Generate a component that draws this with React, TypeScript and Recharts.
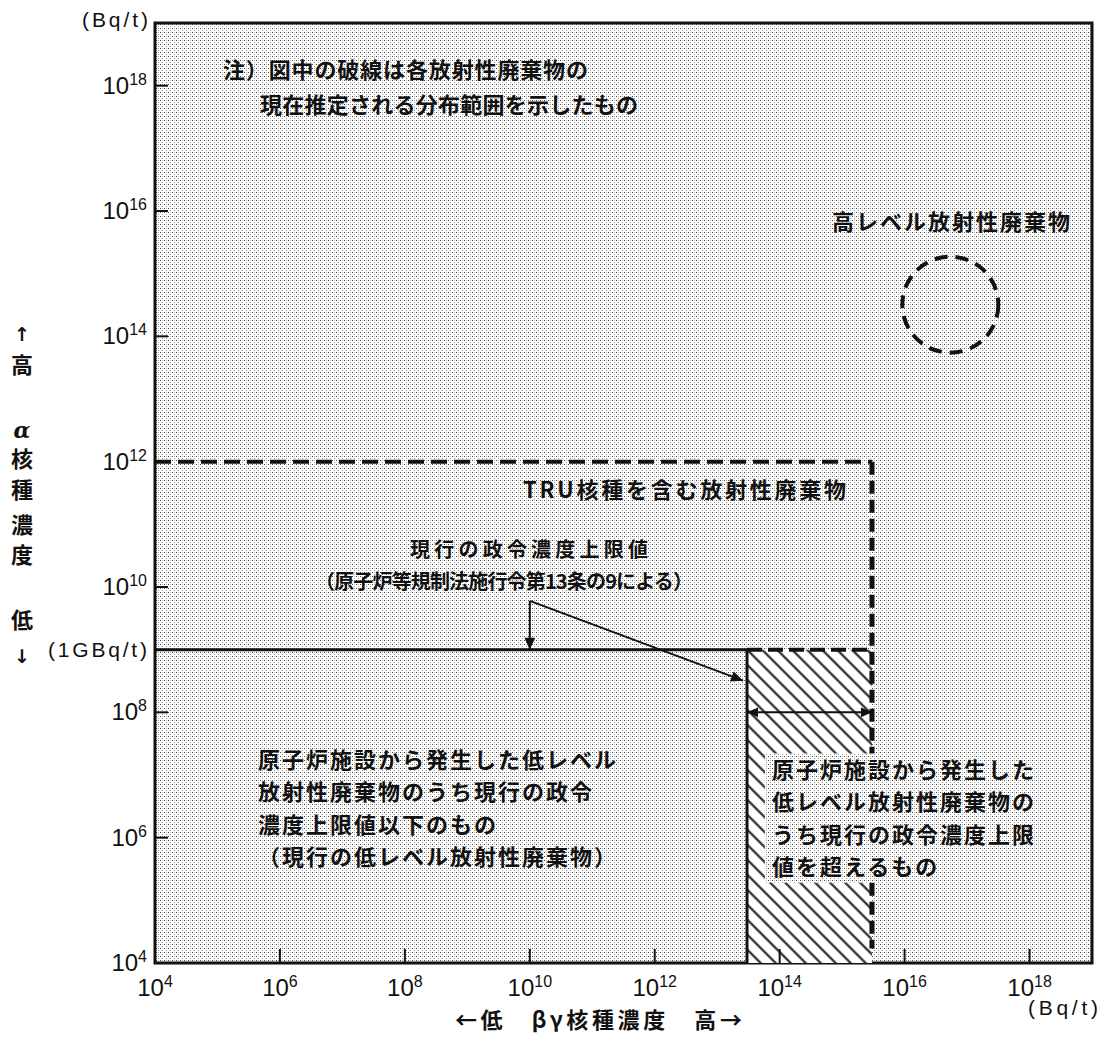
import React from "react";
import {
  ComposedChart,
  XAxis,
  YAxis,
  ReferenceArea,
  ReferenceLine,
  ReferenceDot,
} from "recharts";

// axes (Bq/t), both log scale
const AXIS_MIN = 1e4;
const AXIS_MAX = 1e19;
const xTicks = [1e4, 1e6, 1e8, 1e10, 1e12, 1e14, 1e16, 1e18];
const yTicks = [1e4, 1e6, 1e8, 1e9, 1e10, 1e12, 1e14, 1e16, 1e18];

// TRU waste: dashed boundary
const truAlphaMax = 1e12;
const truBetaMax = 3e15;
const truAlphaFloor = 1.7e4;

// current government limit (1GBq/t) and the hatched band above it
const limitAlpha = 1e9;
const limitBeta = 3e13;

// high level waste (dashed circle)
const hlwBeta = 5.4e16;
const hlwAlpha = 3.2e14;

// plain area behind the right text block
const coverBeta = [5.8e13, 2.1e18];
const coverAlpha = [1.9e5, 2.2e7];

// leader arrows from the limit label
const pointerFrom = { beta: 1e10, alpha: 6e9 };
const pointerTo = { beta: 2.6e13, alpha: 3.2e8 };
const spanAlpha = 1e8;

const W = 1100;
const H = 1030;
const INK = "#111";
const JP = "'Noto Sans CJK JP', 'Noto Sans', sans-serif";
const LAT = "'Liberation Sans', Arial, sans-serif";

const head = (x1: number, y1: number, x2: number, y2: number, s: number) => {
  const a = Math.atan2(y2 - y1, x2 - x1);
  const bx = x2 - s * Math.cos(a);
  const by = y2 - s * Math.sin(a);
  const w = s * 0.45;
  return `${x2},${y2} ${bx + w * Math.sin(a)},${by - w * Math.cos(a)} ${bx - w * Math.sin(a)},${by + w * Math.cos(a)}`;
};

const Arrow = (props: any) => {
  const { x1, y1, x2, y2 } = props;
  return (
    <g>
      <line x1={x1} y1={y1} x2={x2} y2={y2} stroke={INK} strokeWidth={2} />
      <polygon points={head(x1, y1, x2, y2, 12)} fill={INK} />
    </g>
  );
};

const DoubleArrow = (props: any) => {
  const { x1, y1, x2, y2 } = props;
  return (
    <g>
      <line x1={x1} y1={y1} x2={x2} y2={y2} stroke={INK} strokeWidth={2} />
      <polygon points={head(x1, y1, x2, y2, 11)} fill={INK} />
      <polygon points={head(x2, y2, x1, y1, 11)} fill={INK} />
    </g>
  );
};

const Power = ({ x, y, v, anchor }: any) => (
  <text x={x} y={y} textAnchor={anchor} fontFamily={LAT} fontSize={24} fill={INK}>
    10
    <tspan dy={-9} fontSize={16}>
      {Math.round(Math.log10(v))}
    </tspan>
  </text>
);

const YTick = (props: any) => {
  const { x, y, payload } = props;
  const v = payload.value;
  if (v === limitAlpha) {
    return (
      <text x={x} y={y + 7} textAnchor="end" fontFamily={LAT} fontSize={21} fill={INK} textLength={99}>
        (1GBq/t)
      </text>
    );
  }
  return (
    <g>
      {v > AXIS_MIN && <line x1={x + 8} x2={x + 21} y1={y} y2={y} stroke={INK} strokeWidth={2} />}
      <Power x={x} y={y + 8} v={v} anchor="end" />
    </g>
  );
};

const XTick = (props: any) => {
  const { x, y, payload } = props;
  const v = payload.value;
  return (
    <g>
      {v > AXIS_MIN && <line x1={x} x2={x} y1={y} y2={y - 14} stroke={INK} strokeWidth={2} />}
      <Power x={x} y={y + 33} v={v} anchor="middle" />
    </g>
  );
};

const jp = { fontFamily: JP, fontSize: 22, fontWeight: 700, fill: INK, letterSpacing: 2 } as const;

export default function App() {
  return (
    <div style={{ position: "relative", width: W, height: H }}>
      <svg width={0} height={0} style={{ position: "absolute" }}>
        <defs>
          <pattern id="stipple" patternUnits="userSpaceOnUse" width={4} height={4}>
            <rect width={4} height={4} fill="#fff" />
            <rect x={0} y={0} width={1} height={1} fill="#444" />
            <rect x={2} y={2} width={1} height={1} fill="#999" />
            <rect x={2} y={0} width={1} height={1} fill="#bbb" />
          </pattern>
          <pattern id="hatch" patternUnits="userSpaceOnUse" width={10.6} height={10.6} patternTransform="rotate(-45)">
            <rect width={10.6} height={10.6} fill="#fff" />
            <line x1={5.3} y1={0} x2={5.3} y2={10.6} stroke={INK} strokeWidth={2} />
          </pattern>
        </defs>
      </svg>

      <ComposedChart width={W} height={H} margin={{ top: 15, right: 16, left: 47, bottom: 35 }}>
        <ReferenceArea
          x1={AXIS_MIN}
          x2={AXIS_MAX}
          y1={AXIS_MIN}
          y2={AXIS_MAX}
          fill="url(#stipple)"
          fillOpacity={1}
          stroke={INK}
          strokeWidth={3}
        />
        <ReferenceArea
          x1={limitBeta}
          x2={truBetaMax}
          y1={AXIS_MIN}
          y2={limitAlpha}
          fill="url(#hatch)"
          fillOpacity={1}
          stroke="none"
        />
        <ReferenceArea
          x1={coverBeta[0]}
          x2={coverBeta[1]}
          y1={coverAlpha[0]}
          y2={coverAlpha[1]}
          fill="url(#stipple)"
          fillOpacity={1}
          stroke="none"
        />

        <XAxis
          type="number"
          dataKey="beta"
          scale="log"
          domain={[AXIS_MIN, AXIS_MAX]}
          ticks={xTicks}
          interval={0}
          allowDataOverflow
          axisLine={false}
          tickLine={false}
          tickSize={0}
          tickMargin={0}
          height={40}
          tick={<XTick />}
        />
        <YAxis
          type="number"
          dataKey="alpha"
          scale="log"
          domain={[AXIS_MIN, AXIS_MAX]}
          ticks={yTicks}
          interval={0}
          allowDataOverflow
          axisLine={false}
          tickLine={false}
          tickSize={0}
          tickMargin={8}
          width={100}
          tick={<YTick />}
        />

        {/* TRU boundary */}
        <ReferenceLine
          segment={[
            { x: AXIS_MIN, y: truAlphaMax },
            { x: truBetaMax, y: truAlphaMax },
          ]}
          stroke={INK}
          strokeWidth={4}
          strokeDasharray="16 7"
        />
        <ReferenceLine
          segment={[
            { x: truBetaMax, y: truAlphaMax },
            { x: truBetaMax, y: coverAlpha[1] },
          ]}
          stroke={INK}
          strokeWidth={5}
          strokeDasharray="13 6"
        />
        <ReferenceLine
          segment={[
            { x: truBetaMax, y: coverAlpha[0] },
            { x: truBetaMax, y: truAlphaFloor },
          ]}
          stroke={INK}
          strokeWidth={5}
          strokeDasharray="13 6"
        />

        {/* limit line and hatched band */}
        <ReferenceLine
          segment={[
            { x: AXIS_MIN, y: limitAlpha },
            { x: limitBeta, y: limitAlpha },
          ]}
          stroke={INK}
          strokeWidth={3}
        />
        <ReferenceLine
          segment={[
            { x: limitBeta, y: limitAlpha },
            { x: truBetaMax, y: limitAlpha },
          ]}
          stroke={INK}
          strokeWidth={4}
          strokeDasharray="15 6"
        />
        <ReferenceLine
          segment={[
            { x: limitBeta, y: limitAlpha },
            { x: limitBeta, y: AXIS_MIN },
          ]}
          stroke={INK}
          strokeWidth={3}
        />

        {/* leaders */}
        <ReferenceLine
          segment={[
            { x: pointerFrom.beta, y: pointerFrom.alpha },
            { x: pointerFrom.beta, y: limitAlpha },
          ]}
          shape={Arrow}
        />
        <ReferenceLine
          segment={[
            { x: pointerFrom.beta, y: pointerFrom.alpha },
            { x: pointerTo.beta, y: pointerTo.alpha },
          ]}
          shape={Arrow}
        />
        <ReferenceLine
          segment={[
            { x: limitBeta, y: spanAlpha },
            { x: truBetaMax, y: spanAlpha },
          ]}
          shape={DoubleArrow}
        />

        <ReferenceDot
          x={hlwBeta}
          y={hlwAlpha}
          r={48}
          shape={(p: any) => (
            <circle cx={p.cx} cy={p.cy} r={48} fill="none" stroke={INK} strokeWidth={4} strokeDasharray="13 8" />
          )}
        />
      </ComposedChart>

      <svg width={W} height={H} style={{ position: "absolute", left: 0, top: 0, pointerEvents: "none" }}>
        <text x={74} y={19} fontFamily={LAT} fontSize={21} fill={INK} textLength={66}>
          (Bq/t)
        </text>
        <text x={1020} y={1007} fontFamily={LAT} fontSize={21} fill={INK} textLength={70}>
          (Bq/t)
        </text>

        {/* y title, vertical */}
        <g {...jp} letterSpacing={0} textAnchor="middle">
          <text x={14} y={333} fontFamily="'DejaVu Sans', sans-serif" fontSize={19}>↑</text>
          <text x={14} y={365}>高</text>
          <text x={14} y={430} fontFamily="'DejaVu Serif', serif" fontStyle="italic">α</text>
          <text x={14} y={459}>核</text>
          <text x={14} y={490}>種</text>
          <text x={14} y={525}>濃</text>
          <text x={14} y={555}>度</text>
          <text x={14} y={620}>低</text>
          <text x={14} y={655} fontFamily="'DejaVu Sans', sans-serif" fontSize={19}>↓</text>
        </g>

        {/* x title */}
        <text x={447} y={1020} {...jp} letterSpacing={0} textLength={287}>
          ←低　βγ核種濃度　高→
        </text>

        {/* notes inside the plot */}
        <text x={215} y={70} {...jp} textLength={367}>注）図中の破線は各放射性廃棄物の</text>
        <text x={252} y={105} {...jp} textLength={380}>現在推定される分布範囲を示したもの</text>

        <text x={824} y={222} {...jp} textLength={240}>高レベル放射性廃棄物</text>
        <text x={515} y={490} {...jp} textLength={325}>TRU核種を含む放射性廃棄物</text>

        <text x={402} y={549} {...jp} fontSize={20} textLength={240}>現行の政令濃度上限値</text>
        <text x={307} y={581} {...jp} fontSize={20} letterSpacing={0} textLength={378}>（原子炉等規制法施行令第13条の9による）</text>

        <text x={250} y={760} {...jp}>原子炉施設から発生した低レベル</text>
        <text x={250} y={792} {...jp}>放射性廃棄物のうち現行の政令</text>
        <text x={250} y={825} {...jp}>濃度上限値以下のもの</text>
        <text x={250} y={857} {...jp}>（現行の低レベル放射性廃棄物）</text>

        <text x={764} y={770} {...jp}>原子炉施設から発生した</text>
        <text x={764} y={802} {...jp}>低レベル放射性廃棄物の</text>
        <text x={764} y={835} {...jp}>うち現行の政令濃度上限</text>
        <text x={764} y={867} {...jp}>値を超えるもの</text>
      </svg>
    </div>
  );
}
